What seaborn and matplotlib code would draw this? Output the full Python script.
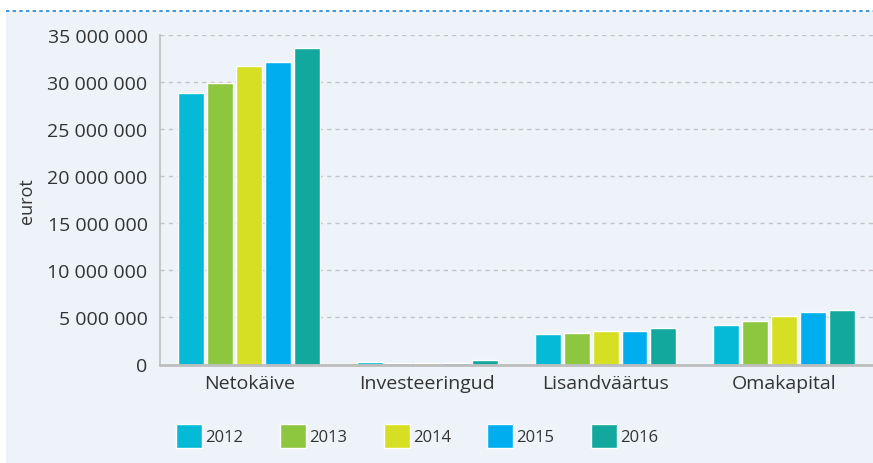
import matplotlib
matplotlib.use("Agg")
import matplotlib.pyplot as plt
import matplotlib.ticker as mticker
from matplotlib.lines import Line2D
from matplotlib.patches import Rectangle
import seaborn as sns
import pandas as pd

# data (euros)
categories = ["Netokäive", "Investeeringud", "Lisandväärtus", "Omakapital"]
years = ["2012", "2013", "2014", "2015", "2016"]
v2012 = [28_800_000, 250_000, 3_200_000, 4_150_000]
v2013 = [29_900_000, 150_000, 3_300_000, 4_600_000]
v2014 = [31_700_000, 120_000, 3_600_000, 5_100_000]
v2015 = [32_100_000, 150_000, 3_600_000, 5_600_000]
v2016 = [33_600_000, 450_000, 3_850_000, 5_750_000]
colors = ["#05bad6", "#8dc63f", "#d6df23", "#00adef", "#12a89d"]

rows = []
for year, vals in zip(years, [v2012, v2013, v2014, v2015, v2016]):
    for cat, v in zip(categories, vals):
        rows.append({"kategooria": cat, "aasta": year, "eurot": v})
df = pd.DataFrame(rows)

sns.set_theme(style="white")
plt.rcParams["font.family"] = ["Open Sans", "DejaVu Sans"]

bg = "#eef3fa"
fig = plt.figure(figsize=(8.73, 4.64), dpi=100, facecolor="white")
fig.patches.append(Rectangle((6 / 873, 0), 1, 1 - 12 / 464, transform=fig.transFigure,
                             facecolor=bg, edgecolor="none", zorder=-10))
fig.lines.append(Line2D([6 / 873, 1], [1 - 12 / 464, 1 - 12 / 464], transform=fig.transFigure,
                        color="#1a86d6", lw=1.2, ls=(0, (2, 2))))

ax = fig.add_axes([160 / 873, (464 - 365.5) / 464, 713 / 873, 329.5 / 464])
ax.set_facecolor(bg)

sns.barplot(data=df, x="kategooria", y="eurot", hue="aasta", palette=colors,
            width=0.81, gap=0.1, ax=ax, saturation=1, errorbar=None)

ax.set_ylim(0, 35_000_000)
ax.set_xlim(-0.5, 3.5)
ax.yaxis.set_major_locator(mticker.MultipleLocator(5_000_000))
ax.yaxis.set_major_formatter(mticker.FuncFormatter(lambda v, p: f"{int(v):,}".replace(",", " ")))
ax.grid(axis="y", color="#c4c4c4", ls=(0, (3, 3)), lw=1)
ax.set_axisbelow(True)

ax.tick_params(axis="y", length=0, pad=9, labelsize=14, labelcolor="#333333")
ax.tick_params(axis="x", length=0, pad=7, labelsize=14, labelcolor="#333333")
ax.set_xticks([0.5, 1.5, 2.5], minor=True)
ax.tick_params(axis="x", which="minor", direction="in", length=6, width=1.2, color="#bdbdbd")

for s in ["top", "right"]:
    ax.spines[s].set_visible(False)
ax.spines["left"].set_color("#bdbdbd")
ax.spines["left"].set_linewidth(1.2)
ax.spines["bottom"].set_color("#bdbdbd")
ax.spines["bottom"].set_linewidth(2)

ax.set_xlabel("")
ax.set_ylabel("eurot", fontsize=13, color="#333333", labelpad=8)

handles, labels = ax.get_legend_handles_labels()
ax.legend_.remove()
fig.legend(handles, labels, loc="center", bbox_to_anchor=(0.478, 0.058), ncol=5,
           frameon=False, fontsize=12, handlelength=1.56, handleheight=1.9,
           handletextpad=0.18, columnspacing=2.2, labelcolor="#333333")

fig.savefig("out.png", dpi=100, facecolor="white")
